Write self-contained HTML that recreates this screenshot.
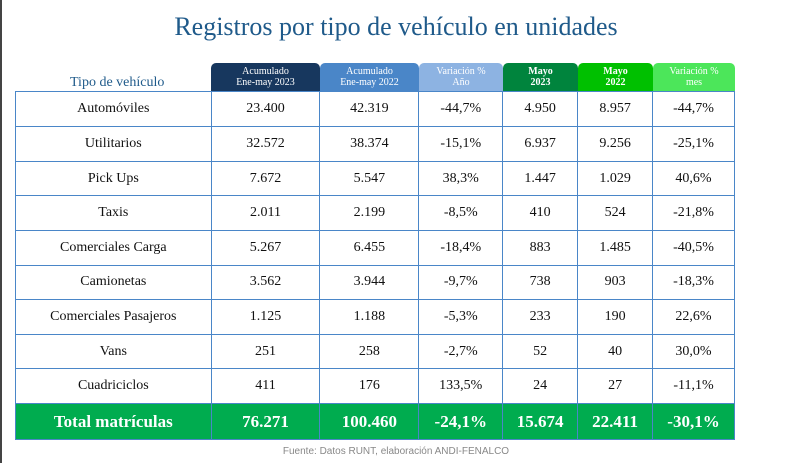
<!DOCTYPE html><html><head><meta charset="utf-8"><style>
body{margin:0;width:792px;height:463px;background:#fff;font-family:"Liberation Serif",serif;position:relative;overflow:hidden}
.frame{position:absolute;left:0;top:0;width:2px;height:463px;background:#444}
h1{position:absolute;top:12px;left:0;width:792px;text-align:center;margin:0;font-weight:normal;font-size:26px;color:#1f5a8a}
.hd{position:absolute;top:63px;height:28px;border-radius:5px 5px 0 0;color:#fff;font-size:10px;line-height:11px;text-align:center;padding-top:3px;box-sizing:border-box}
table{position:absolute;left:15px;top:91px;border-collapse:collapse;width:720px}
td{border:1.5px solid #4a86c8;text-align:center;font-size:14px;height:33.2px;padding:0;color:#111}
tr.t td{background:#00ac4f;color:#fff;font-weight:bold;font-size:17px;height:35.5px}
.src{position:absolute;top:446px;left:0;width:792px;text-align:center;font-size:10px;color:#888;font-family:"Liberation Sans",sans-serif}
</style></head><body><div class="frame"></div>
<h1>Registros por tipo de vehículo en unidades</h1>
<div style="position:absolute;left:70px;top:75px;font-size:14px;color:#1f5a8a">Tipo de vehículo</div>
<div class="hd" style="left:211px;width:109px;background:#17375e">Acumulado<br>Ene-may 2023</div>
<div class="hd" style="left:320px;width:99px;background:#4a86c8">Acumulado<br>Ene-may 2022</div>
<div class="hd" style="left:419px;width:84px;background:#8db3e2">Variación %<br>Año</div>
<div class="hd" style="left:503px;width:75px;background:#00843d;font-weight:bold">Mayo<br>2023</div>
<div class="hd" style="left:578px;width:75px;background:#00c000;font-weight:bold">Mayo<br>2022</div>
<div class="hd" style="left:653px;width:82px;background:#4ce65a">Variación %<br>mes</div>
<table><colgroup><col style="width:196px"><col style="width:109px"><col style="width:99px"><col style="width:84px"><col style="width:75px"><col style="width:75px"><col style="width:82px"></colgroup>
<tr><td style="height:34.2px">Automóviles</td><td>23.400</td><td>42.319</td><td>-44,7%</td><td>4.950</td><td>8.957</td><td>-44,7%</td></tr>
<tr><td style="height:33.6px">Utilitarios</td><td>32.572</td><td>38.374</td><td>-15,1%</td><td>6.937</td><td>9.256</td><td>-25,1%</td></tr>
<tr><td style="height:33.6px">Pick Ups</td><td>7.672</td><td>5.547</td><td>38,3%</td><td>1.447</td><td>1.029</td><td>40,6%</td></tr>
<tr><td style="height:33.6px">Taxis</td><td>2.011</td><td>2.199</td><td>-8,5%</td><td>410</td><td>524</td><td>-21,8%</td></tr>
<tr><td style="height:33.6px">Comerciales Carga</td><td>5.267</td><td>6.455</td><td>-18,4%</td><td>883</td><td>1.485</td><td>-40,5%</td></tr>
<tr><td style="height:33.6px">Camionetas</td><td>3.562</td><td>3.944</td><td>-9,7%</td><td>738</td><td>903</td><td>-18,3%</td></tr>
<tr><td style="height:33.6px">Comerciales Pasajeros</td><td>1.125</td><td>1.188</td><td>-5,3%</td><td>233</td><td>190</td><td>22,6%</td></tr>
<tr><td style="height:33.6px">Vans</td><td>251</td><td>258</td><td>-2,7%</td><td>52</td><td>40</td><td>30,0%</td></tr>
<tr><td style="height:33.6px">Cuadriciclos</td><td>411</td><td>176</td><td>133,5%</td><td>24</td><td>27</td><td>-11,1%</td></tr>
<tr class="t"><td>Total matrículas</td><td>76.271</td><td>100.460</td><td>-24,1%</td><td>15.674</td><td>22.411</td><td>-30,1%</td></tr>
</table>
<div class="src">Fuente: Datos RUNT, elaboración ANDI-FENALCO</div>
</body></html>
